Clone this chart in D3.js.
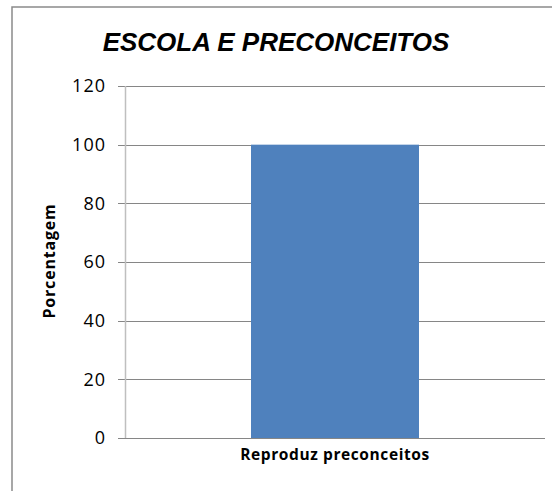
<!DOCTYPE html>
<html><head><meta charset="utf-8">
<script src="https://cdn.jsdelivr.net/npm/d3@7"></script>
<style>body{margin:0;background:#fff}svg{display:block}</style>
</head><body>
<script>
const title = "ESCOLA E PRECONCEITOS";
const yLabel = "Porcentagem";
const categories = ["Reproduz preconceitos"];
const values = [100];
const yTicks = [0, 20, 40, 60, 80, 100, 120];

const W = 552, H = 491;
const svg = d3.select("body").append("svg").attr("width", W).attr("height", H);
const FONT = "'Open Sans', Lato, sans-serif";

// outer border
svg.append("path").attr("d", `M12,${H} L12,7 L${W},7`)
  .attr("fill","none").attr("stroke","#8a8a8a").attr("stroke-width",1.5);

const x = d3.scaleBand().domain(categories).range([125, 545]).paddingInner(0.6).paddingOuter(0.3);
const y = d3.scaleLinear().domain([0, 120]).range([438, 86]);

// gridlines
svg.append("g").selectAll("line").data(yTicks).join("line")
  .attr("x1", 118).attr("x2", 545)
  .attr("y1", d => Math.round(y(d)) + 0.5).attr("y2", d => Math.round(y(d)) + 0.5)
  .attr("stroke", "#868686").attr("stroke-width", 1);

// bars
svg.append("g").selectAll("rect").data(values).join("rect")
  .attr("x", (d,i) => x(categories[i])).attr("width", x.bandwidth())
  .attr("y", d => y(d)).attr("height", d => y(0) - y(d))
  .attr("fill", "#4F81BD");

// y axis line
svg.append("line").attr("x1",125.5).attr("x2",125.5).attr("y1",86).attr("y2",438)
  .attr("stroke","#BFBFBF").attr("stroke-width",1.5);
svg.append("line").attr("x1",118).attr("x2",545).attr("y1",438.5).attr("y2",438.5)
  .attr("stroke","#868686").attr("stroke-width",1);

// y tick labels via axis
const yAxis = d3.axisLeft(y).tickValues(yTicks).tickSize(0).tickPadding(0);
const ga = svg.append("g").attr("transform","translate(106,0)").call(yAxis);
ga.select(".domain").remove();
ga.selectAll("text").attr("font-family",FONT).attr("font-weight",400).attr("font-size",18)
  .attr("letter-spacing","1px").attr("fill","#000");

// x axis labels
const xAxis = d3.axisBottom(x).tickSize(0).tickPadding(0);
const gx = svg.append("g").attr("transform","translate(0,449)").call(xAxis);
gx.select(".domain").remove();
gx.selectAll("text").attr("font-family",FONT).attr("font-weight","bold").attr("font-size",15.5)
  .attr("letter-spacing","0.6px").attr("fill","#000");

// title
svg.append("text").attr("x", 276).attr("y", 51).attr("text-anchor","middle")
  .attr("font-family","Liberation Sans, Arial, sans-serif").attr("font-weight","bold").attr("font-style","italic")
  .attr("font-size",26).text(title);

// y label
svg.append("text").attr("transform","translate(55,261) rotate(-90)").attr("text-anchor","middle")
  .attr("font-family",FONT).attr("font-weight","bold").attr("font-size",16)
  .attr("letter-spacing","0.8px").text(yLabel);
</script>
</body></html>
